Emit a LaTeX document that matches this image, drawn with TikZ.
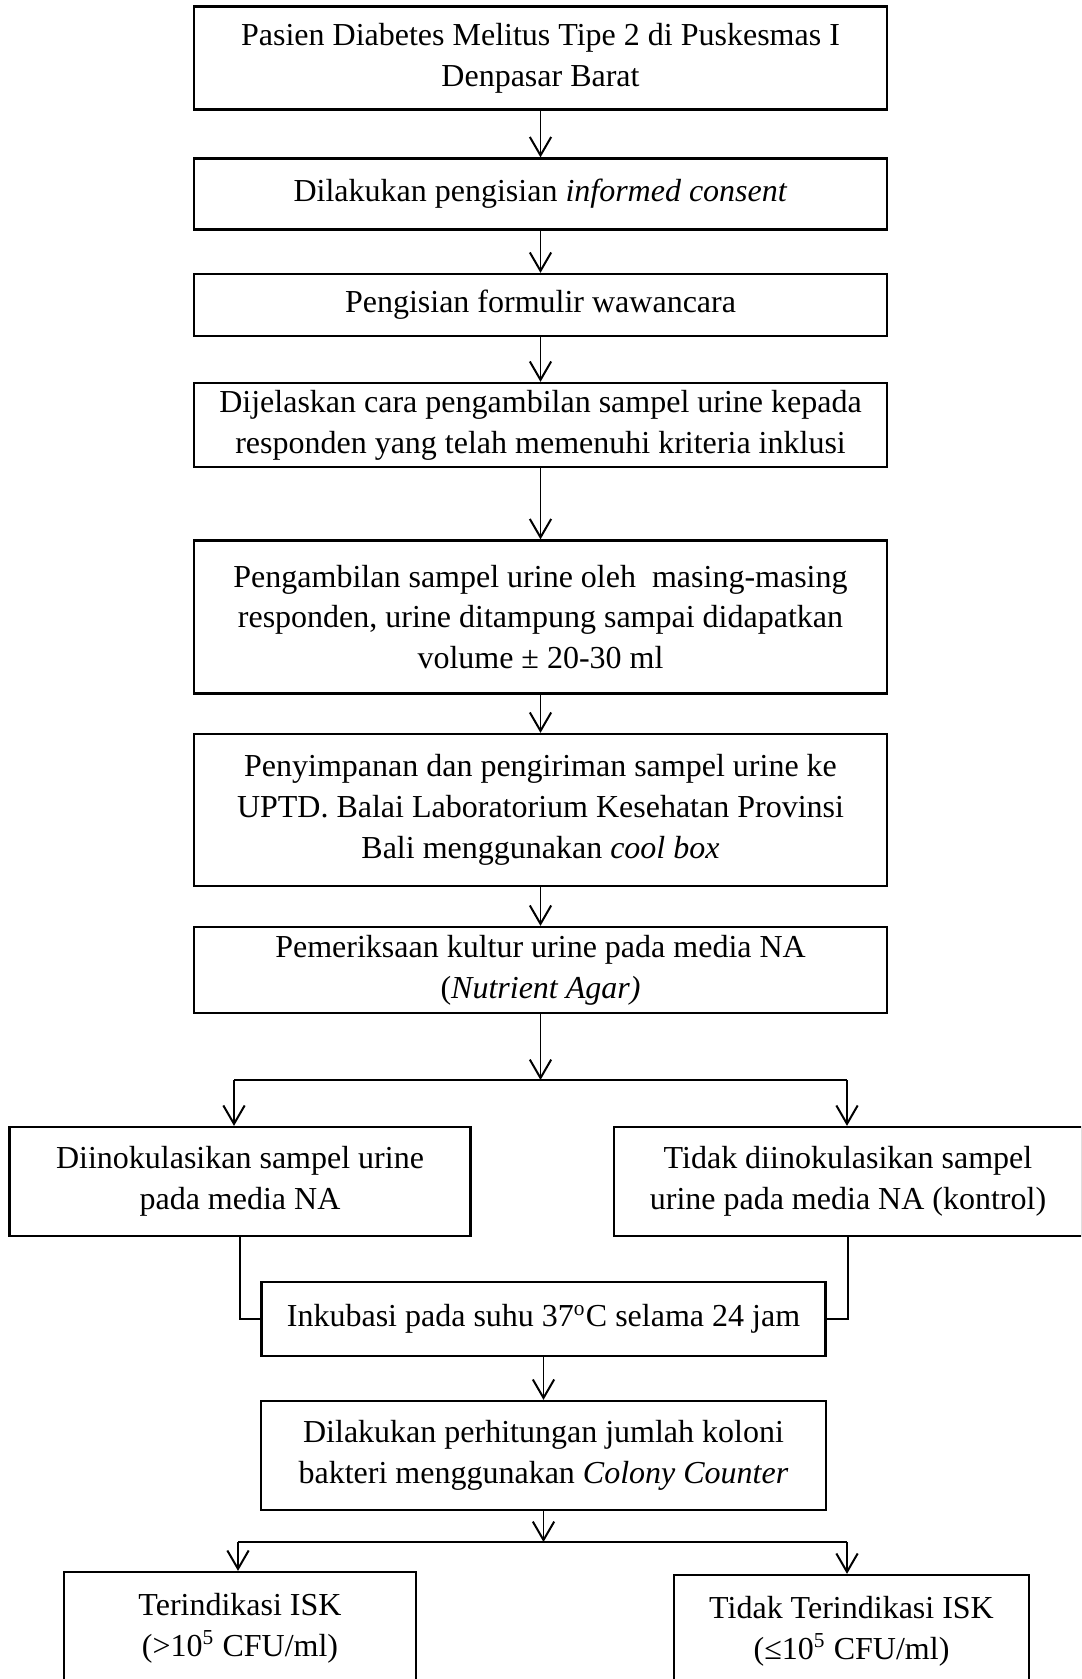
\documentclass[tikz,border=0pt]{standalone}
\usepackage{fontspec}
\setmainfont{Liberation Serif}
\usetikzlibrary{arrows.meta}
\tikzset{
	box/.style 2 args={draw, line width=0.85pt, align=center, inner sep=0pt, minimum width=#1*0.375pt, minimum height=#2*0.375pt, font=\fontsize{12}{15.3}\selectfont},
	arr/.style={-{Straight Barb[length=6.9pt,width=8pt,line width=0.75pt]}, line width=0.65pt},
	line/.style={line width=0.65pt}
}
\begin{document}
\begin{tikzpicture}[x=0.375pt,y=-0.375pt]
	\useasboundingbox (0,0) rectangle (1081,1679);
	\clip (0,0) rectangle (1081,1679);
	\node[box={693}{103}] (pasien) at (540.5,58) {Pasien Diabetes Melitus Tipe 2 di Puskesmas I\\Denpasar Barat};
	\node[box={693}{71}] (consent) at (540.5,194) {Dilakukan pengisian \textit{informed consent}};
	\node[box={693}{62}] (formulir) at (540.5,305) {Pengisian formulir wawancara};
	\node[box={693}{84}] (jelas) at (540.5,425) {Dijelaskan cara pengambilan sampel urine kepada\\responden yang telah memenuhi kriteria inklusi};
	\node[box={693}{153}] (ambil) at (540.5,617) {Pengambilan sampel urine oleh\ \ masing-masing\\responden, urine ditampung sampai didapatkan\\volume ± 20-30 ml};
	\node[box={693}{152}] (kirim) at (540.5,810) {Penyimpanan dan pengiriman sampel urine ke\\UPTD. Balai Laboratorium Kesehatan Provinsi\\Bali menggunakan \textit{cool box}};
	\node[box={693}{86}] (kultur) at (540.5,970) {Pemeriksaan kultur urine pada media NA\\(\textit{Nutrient Agar)}};
	\node[box={461}{109}] (inok) at (240,1181.5) {Diinokulasikan sampel urine\\pada media NA};
	\node[box={468}{109}] (kontrol) at (848,1181.5) {Tidak diinokulasikan sampel\\urine pada media NA (kontrol)};
	\node[box={564}{74}] (inkubasi) at (543.5,1319) {Inkubasi pada suhu 37\textsuperscript{o}C selama 24 jam};
	\node[box={565}{109}] (koloni) at (543.5,1455.5) {Dilakukan perhitungan jumlah koloni\\bakteri menggunakan \textit{Colony Counter}};
	\node[box={352}{112}] (isk) at (240,1628) {Terindikasi ISK\\(>10\textsuperscript{5} CFU/ml)};
	\node[box={355}{112}] (noisk) at (851.5,1631) {Tidak Terindikasi ISK\\(≤10\textsuperscript{5} CFU/ml)};
	\coordinate (splitA) at (540.5,1080);
	\coordinate (splitAL) at (234,1080);
	\coordinate (splitAR) at (847,1080);
	\coordinate (splitB) at (543.5,1542);
	\coordinate (splitBL) at (238,1542);
	\coordinate (splitBR) at (847,1542);
	\draw[arr] (pasien) -- (consent);
	\draw[arr] (consent) -- (formulir);
	\draw[arr] (formulir) -- (jelas);
	\draw[arr] (jelas) -- (ambil);
	\draw[arr] (ambil) -- (kirim);
	\draw[arr] (kirim) -- (kultur);
	\draw[arr] (kultur) -- (splitA);
	\draw[line] (splitAL) -- (splitAR);
	\draw[arr] (splitAL) -- (splitAL |- inok.north);
	\draw[arr] (splitAR) -- (splitAR |- kontrol.north);
	\draw[line] (inok.south) |- (inkubasi.west);
	\draw[line] (kontrol.south) |- (inkubasi.east);
	\draw[arr] (inkubasi) -- (koloni);
	\draw[arr] (koloni) -- (splitB);
	\draw[line] (splitBL) -- (splitBR);
	\draw[arr] (splitBL) -- (splitBL |- isk.north);
	\draw[arr] (splitBR) -- (splitBR |- noisk.north);
\end{tikzpicture}
\end{document}
